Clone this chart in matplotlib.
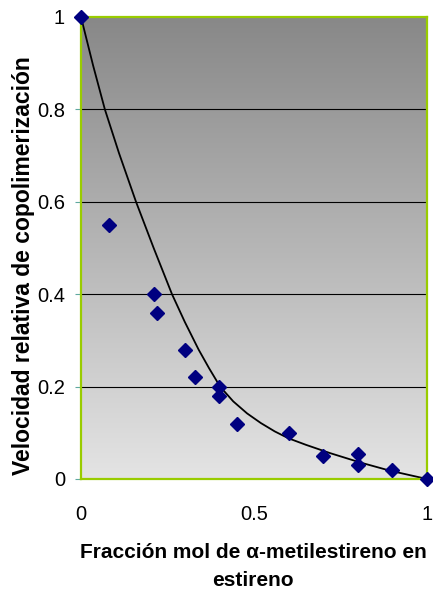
import numpy as np
import matplotlib.pyplot as plt
from matplotlib.colors import LinearSegmentedColormap

# experimental points
frac = [0.0, 0.08, 0.21, 0.22, 0.30, 0.33, 0.40, 0.40, 0.45, 0.60, 0.70, 0.80, 0.80, 0.90, 1.0]
vel = [1.0, 0.55, 0.40, 0.36, 0.28, 0.22, 0.20, 0.18, 0.12, 0.10, 0.05, 0.055, 0.03, 0.02, 0.0]

# fitted curve
curve_x = [0.0, 0.035, 0.069, 0.11, 0.159, 0.21, 0.263, 0.30, 0.34, 0.37, 0.402,
           0.44, 0.48, 0.52, 0.56, 0.60, 0.65, 0.72, 0.806, 0.893, 1.0]
curve_y = [1.0, 0.895, 0.80, 0.705, 0.60, 0.50, 0.40, 0.34, 0.28, 0.24, 0.20,
           0.168, 0.142, 0.121, 0.103, 0.088, 0.074, 0.056, 0.036, 0.018, 0.0]

yticks = [0, 0.2, 0.4, 0.6, 0.8, 1]
xticks = [0, 0.5, 1]

plt.rcParams['font.family'] = ['Liberation Sans', 'DejaVu Sans']

fig = plt.figure(figsize=(4.33, 5.93), dpi=100)
ax = fig.add_axes([81 / 433, 1 - 479 / 593, 346 / 433, 462 / 593])

# gray gradient background, dark at the top
bg = LinearSegmentedColormap.from_list('bg', ['#888888', '#e4e4e4'])
grad = np.linspace(0, 1, 256).reshape(-1, 1)
ax.imshow(grad, extent=[0, 1, 0, 1], aspect='auto', cmap=bg,
          origin='upper', zorder=0)

for yv in yticks[1:-1]:
    ax.axhline(yv, color='black', lw=0.8, zorder=1)

ax.plot(curve_x, curve_y, color='black', lw=1.3, zorder=2)
ax.plot(frac, vel, 'D', color='#000080', markersize=7.5, zorder=3, clip_on=False)

ax.set_xlim(0, 1)
ax.set_ylim(0, 1)
ax.set_xticks(xticks)
ax.set_xticklabels(['0', '0.5', '1'])
ax.set_yticks(yticks)
ax.set_yticklabels(['0', '0.2', '0.4', '0.6', '0.8', '1'])
ax.tick_params(axis='x', length=0, pad=19, labelsize=14.5)
ax.tick_params(axis='y', length=4.5, width=0.8, color='#5fa8a0', pad=7, labelsize=14.5)

for s in ax.spines.values():
    s.set_color('#99cc00')
    s.set_linewidth(1.6)

fig.text(23.5 / 433, 1 - 266 / 593, 'Velocidad relativa de copolimerización',
         rotation=90, ha='center', va='center', fontsize=16.5, fontweight='bold')
fig.text(253 / 433, 1 - 553 / 593, 'Fracción mol de α-metilestireno en',
         ha='center', va='center', fontsize=15, fontweight='bold')
fig.text(253 / 433, 1 - 580 / 593, 'estireno',
         ha='center', va='center', fontsize=15, fontweight='bold')

fig.savefig('out.png', dpi=100)
